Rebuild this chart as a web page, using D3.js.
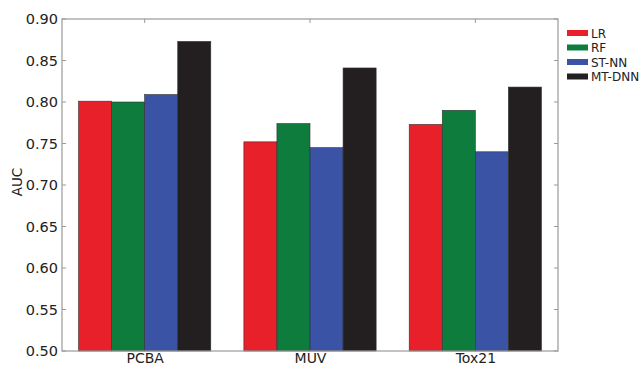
<!DOCTYPE html>
<html>
<head>
<meta charset="utf-8">
<script src="https://cdn.jsdelivr.net/npm/d3@7"></script>
<style>
  body { margin: 0; background: #fff; }
  text { font-family: "DejaVu Sans", sans-serif; fill: #222; }
</style>
</head>
<body>
<svg id="chart" width="641" height="366"></svg>
<script>
// data
const datasets = ['PCBA', 'MUV', 'Tox21'];
const models = ['LR', 'RF', 'ST-NN', 'MT-DNN'];
const colors = ['#e8202a', '#0e7c3d', '#3a53a4', '#231f20'];
const lrVals = [0.801, 0.752, 0.773];
const rfVals = [0.800, 0.774, 0.790];
const stnnVals = [0.809, 0.745, 0.740];
const mtdnnVals = [0.873, 0.841, 0.818];
const yTicks = [0.50, 0.55, 0.60, 0.65, 0.70, 0.75, 0.80, 0.85, 0.90];

const series = [lrVals, rfVals, stnnVals, mtdnnVals];

const svg = d3.select('#chart');
const margin = { left: 62, top: 19, right: 83, bottom: 15 };
const width = 641 - margin.left - margin.right;
const height = 366 - margin.top - margin.bottom;

const g = svg.append('g').attr('transform', `translate(${margin.left},${margin.top})`);

const x0 = d3.scaleBand().domain(datasets).range([0, width]).paddingInner(0.2).paddingOuter(0.1);
const x1 = d3.scaleBand().domain(models).range([0, x0.bandwidth()]);
const y = d3.scaleLinear().domain([0.5, 0.9]).range([height, 0]);

// bars
datasets.forEach((ds, i) => {
  const grp = g.append('g').attr('transform', `translate(${x0(ds)},0)`);
  models.forEach((m, j) => {
    const v = series[j][i];
    grp.append('rect')
      .attr('x', x1(m))
      .attr('y', y(v))
      .attr('width', x1.bandwidth())
      .attr('height', height - y(v))
      .attr('fill', colors[j])
      .attr('stroke', '#333')
      .attr('stroke-width', 0.6);
  });
});

// frame
g.append('rect')
  .attr('x', 0).attr('y', 0)
  .attr('width', width).attr('height', height)
  .attr('fill', 'none')
  .attr('stroke', '#999')
  .attr('stroke-width', 1.2);

// left axis
const yAxis = g.append('g')
  .call(d3.axisLeft(y).tickValues(yTicks).tickFormat(d3.format('.2f')).tickSize(0).tickPadding(4));
yAxis.select('.domain').remove();
yAxis.selectAll('text').attr('font-size', '14.5px').attr('fill', '#222');

// inner ticks on both sides
yTicks.forEach(t => {
  g.append('line').attr('x1', 0).attr('x2', 4).attr('y1', y(t)).attr('y2', y(t)).attr('stroke', '#999');
  g.append('line').attr('x1', width - 4).attr('x2', width).attr('y1', y(t)).attr('y2', y(t)).attr('stroke', '#999');
});

// bottom axis labels
const xCenter = d => x0(d) + x0.bandwidth() / 2;
const xAxis = g.append('g')
  .attr('transform', `translate(0,${height})`)
  .call(d3.axisBottom(d3.scalePoint().domain(datasets).range([xCenter(datasets[0]), xCenter(datasets[2])]))
    .tickSize(0).tickPadding(2));
xAxis.select('.domain').remove();
xAxis.selectAll('text').attr('font-size', '14px').attr('fill', '#222');

datasets.forEach(d => {
  g.append('line').attr('x1', xCenter(d)).attr('x2', xCenter(d)).attr('y1', 0).attr('y2', 4).attr('stroke', '#999');
});

// y label
svg.append('text')
  .attr('transform', 'translate(22,182) rotate(-90)')
  .attr('text-anchor', 'middle')
  .attr('font-size', '13.5px')
  .text('AUC');

// legend
const legend = svg.append('g').attr('transform', 'translate(567,30)');
models.forEach((m, j) => {
  const row = legend.append('g').attr('transform', `translate(0,${j * 14.5})`);
  row.append('rect').attr('x', 0).attr('y', 0).attr('width', 21).attr('height', 6).attr('fill', colors[j]);
  row.append('text').attr('x', 24).attr('y', 7.5).attr('font-size', '12px').text(m);
});
</script>
</body>
</html>
